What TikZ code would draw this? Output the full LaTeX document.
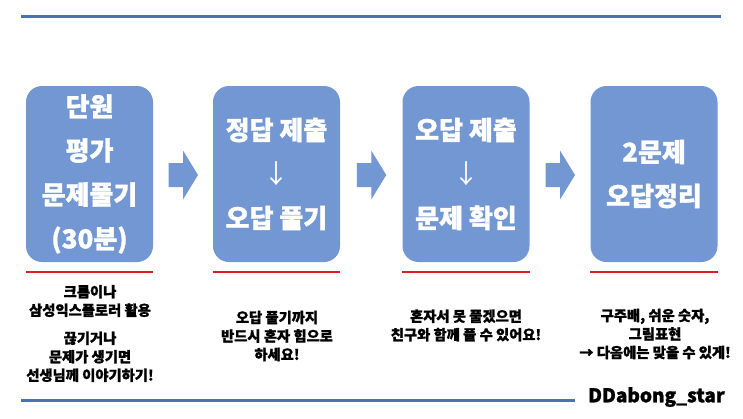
\documentclass[tikz,border=0pt]{standalone}
\usepackage{fontspec}
\newfontfamily\kr[BoldFeatures={FakeBold=1.2}]{Noto Sans CJK KR}
\usetikzlibrary{calc}
\definecolor{boxblue}{RGB}{115,151,211}
\definecolor{lineblue}{RGB}{74,112,182}
\definecolor{redline}{RGB}{222,30,36}
\begin{document}
\begin{tikzpicture}[x=1pt,y=-1pt,
  stepbox/.style={rectangle, rounded corners=16pt, fill=boxblue, minimum width=127pt, minimum height=176pt, inner sep=0pt, text=white, align=center, font=\kr\bfseries\fontsize{26}{44}\selectfont},
  note/.style={align=center, font=\kr\bfseries\fontsize{14.3}{18.5}\selectfont, text=black, inner sep=0pt},
  redrule/.style={draw=redline, line width=1.5pt},
  bluerule/.style={draw=lineblue, line width=3pt},
  blockarrow/.style={fill=boxblue}]
\useasboundingbox[fill=white] (0,0) rectangle (743,418);

% rules
\coordinate (tl) at (21,16);
\coordinate (tr) at (721,16);
\draw[bluerule] (tl) -- (tr);

% boxes
\node[stepbox] (b1) at (89.5,174) {단원\\평가\\문제풀기\\(30분)};
\node[stepbox] (b2) at (276.5,174) {정답 제출\\{\mdseries ↓}\\오답 풀기};
\node[stepbox] (b3) at (466,174) {오답 제출\\{\mdseries ↓}\\문제 확인};
\node[stepbox] (b4) at (654,174) {2문제\\오답정리};

% block arrows
\foreach \a/\b/\m in {b1/b2/m1, b2/b3/m2, b3/b4/m3}{
  \coordinate (\m) at ($(\a.east)!0.5!(\b.west)+(0,1)$);
  \fill[blockarrow] ($(\m)+(-14.5,-12)$) -- ($(\m)+(0,-12)$) -- ($(\m)+(0,-24.5)$)
     -- ($(\m)+(15,0)$) -- ($(\m)+(0,24.5)$) -- ($(\m)+(0,12)$) -- ($(\m)+(-14.5,12)$) -- cycle;
}

% red underlines
\foreach \b in {b1,b2,b3,b4}{
  \draw[redrule] ([yshift=-10pt]\b.south west) -- ([yshift=-10pt]\b.south east);
}

% notes
\node[note] (n1) at (90,333.5) {크롬이나\\삼성익스플로러 활용\\[9.5pt]끊기거나\\문제가 생기면\\선생님께 이야기하기!};
\node[note] (n2) at (277,336) {오답 풀기까지\\반드시 혼자 힘으로\\하세요!};
\node[note] (n3) at (466,325.5) {혼자서 못 풀겠으면\\친구와 함께 풀 수 있어요!};
\node[note] (n4) at (655,334) {구주배, 쉬운 숫자,\\그림표현\\→ 다음에는 맞을 수 있게!};

% signature and bottom rule
\node[anchor=west, inner sep=0pt, font=\kr\bfseries\fontsize{19}{22}\selectfont] (dd) at (588,397) {DDabong\_star};
\coordinate (bl) at (21,400);
\coordinate (br) at (575,400);
\draw[bluerule] (bl) -- (br);
\end{tikzpicture}
\end{document}
